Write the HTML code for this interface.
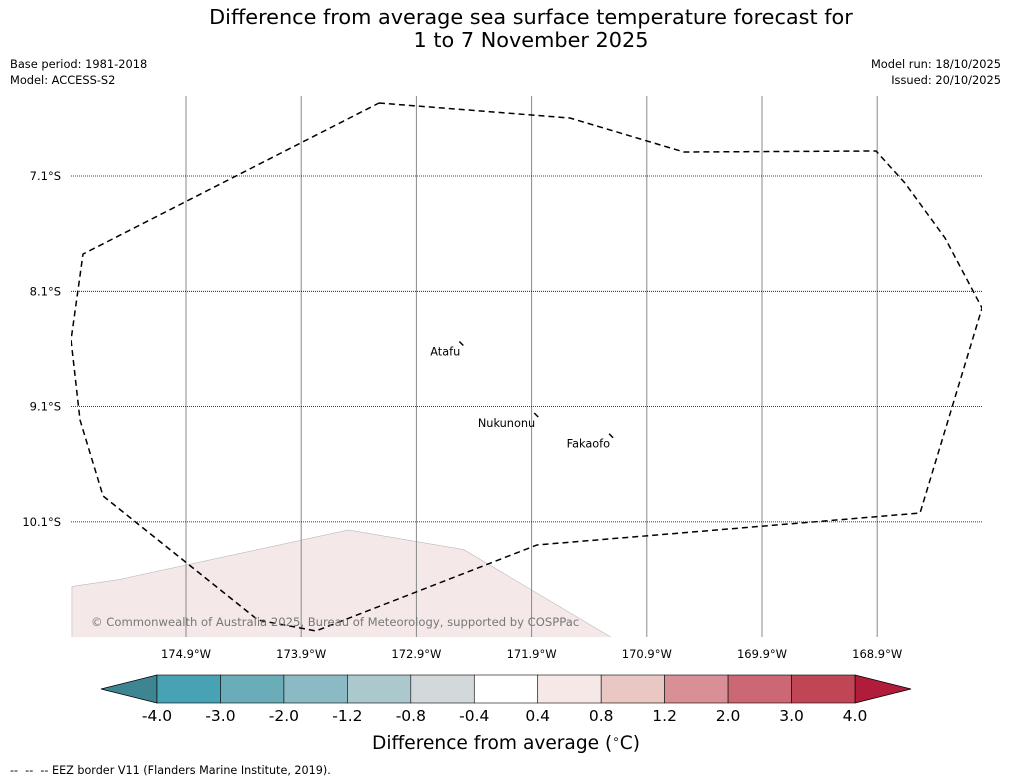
<!DOCTYPE html>
<html><head><meta charset="utf-8"><style>
html,body{margin:0;padding:0;background:#fff;}
svg{display:block;font-family:"DejaVu Sans","Liberation Sans",sans-serif;}
</style></head><body>
<svg id="chart" width="1011" height="781" viewBox="0 0 1011 781" xmlns="http://www.w3.org/2000/svg">
<text x="531" y="24" font-size="20.8" text-anchor="middle">Difference from average sea surface temperature forecast for</text>
<text x="531" y="47" font-size="20.8" text-anchor="middle">1 to 7 November 2025</text>
<text x="10" y="68" font-size="11.4">Base period: 1981-2018</text>
<text x="10" y="84" font-size="11.4">Model: ACCESS-S2</text>
<text x="1001" y="68" font-size="11.4" text-anchor="end">Model run: 18/10/2025</text>
<text x="1001" y="84" font-size="11.4" text-anchor="end">Issued: 20/10/2025</text>
<g id="map"></g>
<g id="cbar"></g>
<text x="506" y="749" font-size="18.6" text-anchor="middle">Difference from average (<tspan font-size="12" dy="-6">∘</tspan><tspan dy="6">C)</tspan></text>
<text x="10" y="774" font-size="11.2" xml:space="preserve">--  --  -- EEZ border V11 (Flanders Marine Institute, 2019).</text>
</svg>
<script>
const lonTicks=[-174.9,-173.9,-172.9,-171.9,-170.9,-169.9,-168.9];
const latTicks=[-7.1,-8.1,-9.1,-10.1];
const eezLon=[-173.225,-171.567,-170.577,-168.910,-168.659,-168.311,-167.990,-168.528,-171.853,-173.772,-174.275,-175.620,-175.820,-175.898,-175.794,-173.225];
const eezLat=[-6.467,-6.597,-6.892,-6.883,-7.161,-7.638,-8.245,-10.023,-10.300,-11.046,-10.951,-9.875,-9.216,-8.522,-7.777,-6.467];
const landLon=[-175.89,-175.48,-173.49,-172.49,-171.21,-171.21,-175.89];
const landLat=[-10.66,-10.60,-10.17,-10.34,-11.10,-11.2,-11.2];
const islands=["Atafu","Nukunonu","Fakaofo"];
const islandLon=[-172.51,-171.86,-171.21];
const islandLat=[-8.57,-9.19,-9.37];
const cbLabels=["-4.0","-3.0","-2.0","-1.2","-0.8","-0.4","0.4","0.8","1.2","2.0","3.0","4.0"];
const cbColors=["#47a3b3","#6aadb9","#8cbac4","#abc9cd","#d3d8da","#ffffff","#f5e8e7","#e9c7c3","#d89096","#cc6873","#c04656"];
const NS="http://www.w3.org/2000/svg";
const X0=71,X1=982,Y0=96,Y1=637;
const xs=lon=>186+(lon+174.9)*115.2;
const ys=lat=>176+(-7.1-lat)*115.3;
function mk(t,a,p){const e=document.createElementNS(NS,t);for(const k in a)e.setAttribute(k,a[k]);p.appendChild(e);return e;}
const map=document.getElementById('map');
const defs=mk('defs',{},map);
const cp=mk('clipPath',{id:'clip'},defs);
mk('rect',{x:X0,y:Y0,width:X1-X0,height:Y1-Y0},cp);
const inner=mk('g',{'clip-path':'url(#clip)'},map);
let lp=landLon.map((v,i)=>xs(v)+','+ys(landLat[i])).join(' ');
const land=mk('polygon',{points:lp,fill:'#f4e9e8',stroke:'#bbb','stroke-width':0.6},inner);


lonTicks.forEach(v=>{
  const l=mk('line',{x1:xs(v),x2:xs(v),y1:Y0,y2:Y1,stroke:'#888','stroke-width':1},inner);
  
  
  const t=mk('text',{x:xs(v),y:658,'font-size':11.5,'text-anchor':'middle'},map);
  t.textContent=Math.abs(v).toFixed(1)+'°W';
  
  
});
latTicks.forEach(v=>{
  const l=mk('line',{x1:X0,x2:X1,y1:ys(v),y2:ys(v),stroke:'#000','stroke-width':0.8,'stroke-dasharray':'1,1'},inner);
  
  
  const t=mk('text',{x:61,y:ys(v)+4,'font-size':11.5,'text-anchor':'end'},map);
  t.textContent=Math.abs(v).toFixed(1)+'°S';
  
  
});
let ep=eezLon.map((v,i)=>xs(v)+','+ys(eezLat[i])).join(' ');
const eez=mk('polyline',{points:ep,fill:'none',stroke:'#000','stroke-width':1.5,'stroke-dasharray':'6,4'},inner);


islands.forEach((n,i)=>{
  const x=xs(islandLon[i]),y=ys(islandLat[i]);
  const m=mk('path',{d:`M${x-2},${y-4} L${x+2},${y}`,stroke:'#000','stroke-width':1.5,fill:'none'},map);
  
  
  const t=mk('text',{x:x-1,y:y+10,'font-size':11.3,'text-anchor':'end'},map);
  t.textContent=n;
  
  
});
const cr=mk('text',{x:91,y:626,'font-size':11.6,fill:'#777'},map);
cr.textContent='© Commonwealth of Australia 2025, Bureau of Meteorology, supported by COSPPac';


const cb=document.getElementById('cbar');
const CX0=157,CX1=855,CY0=675,CY1=703,w=(CX1-CX0)/cbColors.length;
const lt=mk('polygon',{points:`${CX0},${CY0} ${101},${(CY0+CY1)/2} ${CX0},${CY1}`,fill:'#3d8590',stroke:'#000','stroke-width':0.8},cb);


const rt=mk('polygon',{points:`${CX1},${CY0} ${911},${(CY0+CY1)/2} ${CX1},${CY1}`,fill:'#b01c3a',stroke:'#000','stroke-width':0.8},cb);


cbColors.forEach((c,i)=>{
  const r=mk('rect',{x:CX0+i*w,y:CY0,width:w,height:CY1-CY0,fill:c,stroke:'#000','stroke-width':0.6},cb);
  
  
});
cbLabels.forEach((s,i)=>{
  const t=mk('text',{x:CX0+i*w,y:721,'font-size':15.5,'text-anchor':'middle'},cb);
  t.textContent=s;
  
  
});
</script>
</body></html>
